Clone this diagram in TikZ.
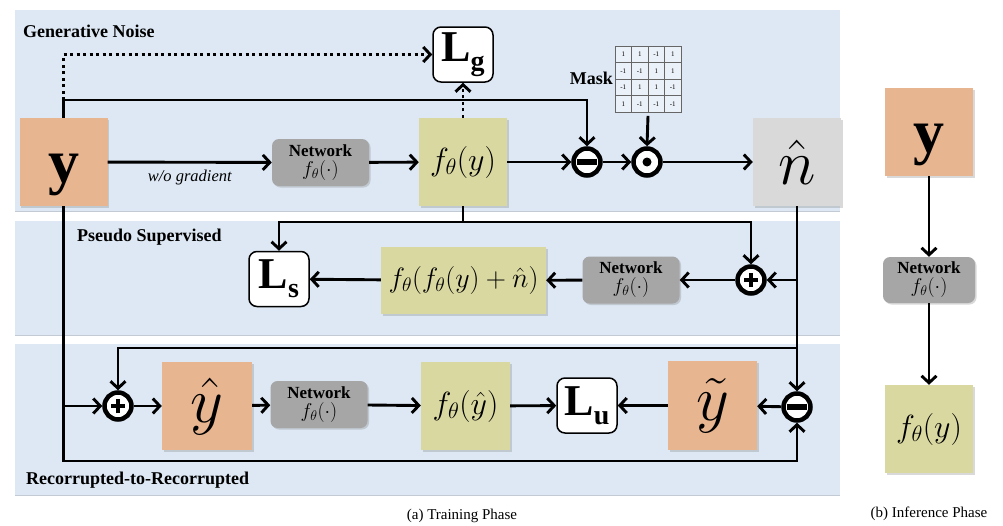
\RequirePackage{fix-cm}
\documentclass[tikz,border=0pt]{standalone}
\usepackage{fontspec}
\setmainfont{Liberation Serif}
\usetikzlibrary{arrows.meta,shadows,matrix}
\definecolor{panelblue}{HTML}{DDE8F4}
\definecolor{panelline}{HTML}{C3CAD3}
\definecolor{orangebox}{HTML}{E8B591}
\definecolor{yellowbox}{HTML}{D9D8A1}
\definecolor{netgray}{HTML}{A6A6A6}
\definecolor{nhgray}{HTML}{D9D9D9}
\tikzset{
  panel/.style={fill=panelblue},
  shad/.style={drop shadow={shadow xshift=1.5pt,shadow yshift=-1.5pt,opacity=.3}},
  sq/.style={shad,minimum width=88pt,minimum height=88pt,inner sep=0pt},
  orng/.style={sq,fill=orangebox},
  yel/.style={sq,fill=yellowbox},
  net/.style={shad,rounded corners=7pt,fill=netgray,minimum width=97pt,minimum height=47pt,
    inner sep=0pt,align=center,font=\fontsize{17}{19}\selectfont},
  loss/.style={draw,line width=1.5pt,rounded corners=8pt,fill=white,minimum width=60pt,
    minimum height=55pt,inner sep=0pt},
  op/.style={circle,draw,line width=4.5pt,fill=white,minimum size=27pt,inner sep=0pt},
  ln/.style={line width=2.9pt},
  arr/.style={ln,-{Straight Barb[length=7pt,width=15pt]}},
  dotl/.style={line width=2.9pt,dash pattern=on 3pt off 3.5pt},
  dotarr/.style={dotl,-{Straight Barb[length=7pt,width=15pt]}},
  ttl/.style={font=\fontsize{18}{20}\selectfont\bfseries,inner sep=0pt},
  captxt/.style={font=\fontsize{15}{17}\selectfont,inner sep=0pt},
  bigy/.style={font=\fontsize{62}{62}\selectfont\bfseries},
  mth/.style={font=\fontsize{32}{34}\selectfont},
  bigm/.style={font=\fontsize{64}{64}\selectfont},
  lossf/.style={font=\fontsize{44}{44}\selectfont\bfseries},
}
\newcommand{\netlabel}{\textbf{Network}\\{\fontsize{20}{22}\selectfont$f_\theta(\cdot)$}}
\newcommand{\lowy}{\raisebox{-20pt}[0pt][0pt]{y}}
\newcommand{\losslbl}[1]{L\raisebox{-9pt}{\fontsize{28}{28}\selectfont #1}}
\begin{document}
\begin{tikzpicture}[x=1pt,y=-1pt]
\useasboundingbox (0,0) rectangle (1003,525);
% panels
\fill[panel] (15,10) rectangle (840,211);
\fill[panel] (15,221) rectangle (840,335);
\fill[panel] (15,344) rectangle (840,495);
\draw[panelline,line width=1pt] (15,211) -- (840,211);
\draw[panelline,line width=1pt] (15,335) -- (840,335);
\draw[panelline,line width=1pt] (15,495) -- (840,495);
\node[ttl,anchor=west] (t1) at (23,31) {Generative Noise};
\node[ttl,anchor=west] (t2) at (77,237) {Pseudo Supervised};
\node[ttl,anchor=west] (t3) at (26,480) {Recorrupted-to-Recorrupted};
\node[captxt] (capa) at (462,516) {(a) Training Phase};
\node[captxt] (capb) at (929,514) {(b) Inference Phase};
% panel 1 nodes
\node[orng,bigy] (ybox) at (63.5,162) {\lowy};
\node[net] (net1) at (320.5,162.5) {\netlabel};
\node[yel,mth] (fy) at (463,162) {$f_\theta(y)$};
\node[loss,lossf] (lg) at (463,54.5) {\losslbl{g}};
\node[op] (m1) at (587,162) {};
\node[op] (od) at (647,162) {};
\fill (m1.center) ++(-10,-3) rectangle ++(20,6);
\fill (od.center) circle (4.5pt);
\node[sq,fill=nhgray,bigm] (nh) at (797,162) {$\hat n$};
\matrix[matrix of nodes,nodes={draw=gray!80!black,line width=0.6pt,minimum size=16.5pt,inner sep=0pt,
  font=\fontsize{7}{7}\selectfont,fill=white!40!panelblue},column sep=-0.6pt,row sep=-0.6pt] (mask) at (648,79)
{1 & 1 & -1 & 1\\ -1 & -1 & 1 & 1\\ -1 & 1 & 1 & -1\\ 1 & -1 & -1 & -1\\};
\node[ttl,anchor=east] (masklbl) at (613,78) {Mask};
% panel 2 nodes
\node[loss,lossf] (ls) at (279,279) {\losslbl{s}};
\node[yel,font=\fontsize{28}{30}\selectfont,minimum width=165pt,minimum height=67pt] (ff) at (463.5,280.5) {$f_\theta(f_\theta(y)+\hat n)$};
\node[net] (net2) at (631,280) {\netlabel};
\node[op] (p2) at (751,280) {};
% panel 3 nodes
\node[op] (p3) at (118,406) {};
\node[orng,bigm,minimum width=90pt] (yh) at (207,406) {$\hat y$};
\node[net] (net3) at (319,404.5) {\netlabel};
\node[yel,mth,minimum width=89pt] (fyh) at (465.5,406) {$f_\theta(\hat y)$};
\node[loss,lossf] (lu) at (587,405.5) {\losslbl{u}};
\node[orng,bigm,minimum width=89pt,minimum height=89pt] (yt) at (712.5,405.5) {$\tilde y$};
\node[op] (m2) at (797,407) {};
\fill (m2.center) ++(-10,-3) rectangle ++(20,6);
\foreach \p in {p2,p3}{
  \draw[line width=4pt] ([xshift=-7pt]\p.center) -- ([xshift=7pt]\p.center);
  \draw[line width=4pt] ([yshift=-7pt]\p.center) -- ([yshift=7pt]\p.center);
}
% inference nodes
\node[orng,bigy] (iy) at (929,132) {\lowy};
\node[net,minimum width=92pt,minimum height=46pt] (inet) at (929,280) {\netlabel};
\node[yel,mth] (ify) at (929,429) {$f_\theta(y)$};
% connectors panel 1
\coordinate (jy) at (63.5,100);
\draw[ln] (ybox.north) -- (jy);
\draw[arr] (jy) -| (m1.north);
\draw[dotarr] (jy) |- (lg.west);
\draw[dotarr] (fy.north) -- (lg.south);
\draw[arr] (ybox) -- node[midway,below=6pt,font=\fontsize{16.5}{18}\selectfont\itshape,inner sep=0pt] (wog) {w/o gradient} (net1);
\draw[arr] (net1) -- (fy);
\draw[arr] (fy) -- (m1);
\draw[arr] (m1) -- (od);
\draw[arr] (od) -- (nh);
\draw[arr] (mask.south) -- (od.north);
% connectors panel 2
\coordinate (jf) at (463,222);
\draw[ln] (fy.south) -- (jf);
\draw[arr] (jf) -| (ls.north);
\draw[arr] (jf) -| (p2.north);
\draw[arr] (nh.south) -- (m2.north);
\draw[arr] (nh.south |- p2.east) -- (p2.east);
\draw[arr] (p2) -- (net2);
\draw[arr] (net2) -- (ff);
\draw[arr] (ff) -- (ls);
% connectors panel 3
\coordinate (jt) at (797,348);
\draw[arr] (jt) -| (p3.north);
\coordinate (jb) at (63.5,461);
\draw[arr] (ybox.south) -- (jb) -| (m2.south);
\draw[arr] (ybox.south |- p3.west) -- (p3.west);
\draw[arr] (p3) -- (yh);
\draw[arr] (yh) -- (net3);
\draw[arr] (net3) -- (fyh);
\draw[arr] (fyh) -- (lu);
\draw[arr] (yt) -- (lu);
\draw[arr] (m2) -- (yt);
% inference connectors
\draw[arr] (iy) -- (inet);
\draw[arr] (inet) -- (ify);
\end{tikzpicture}
\end{document}
